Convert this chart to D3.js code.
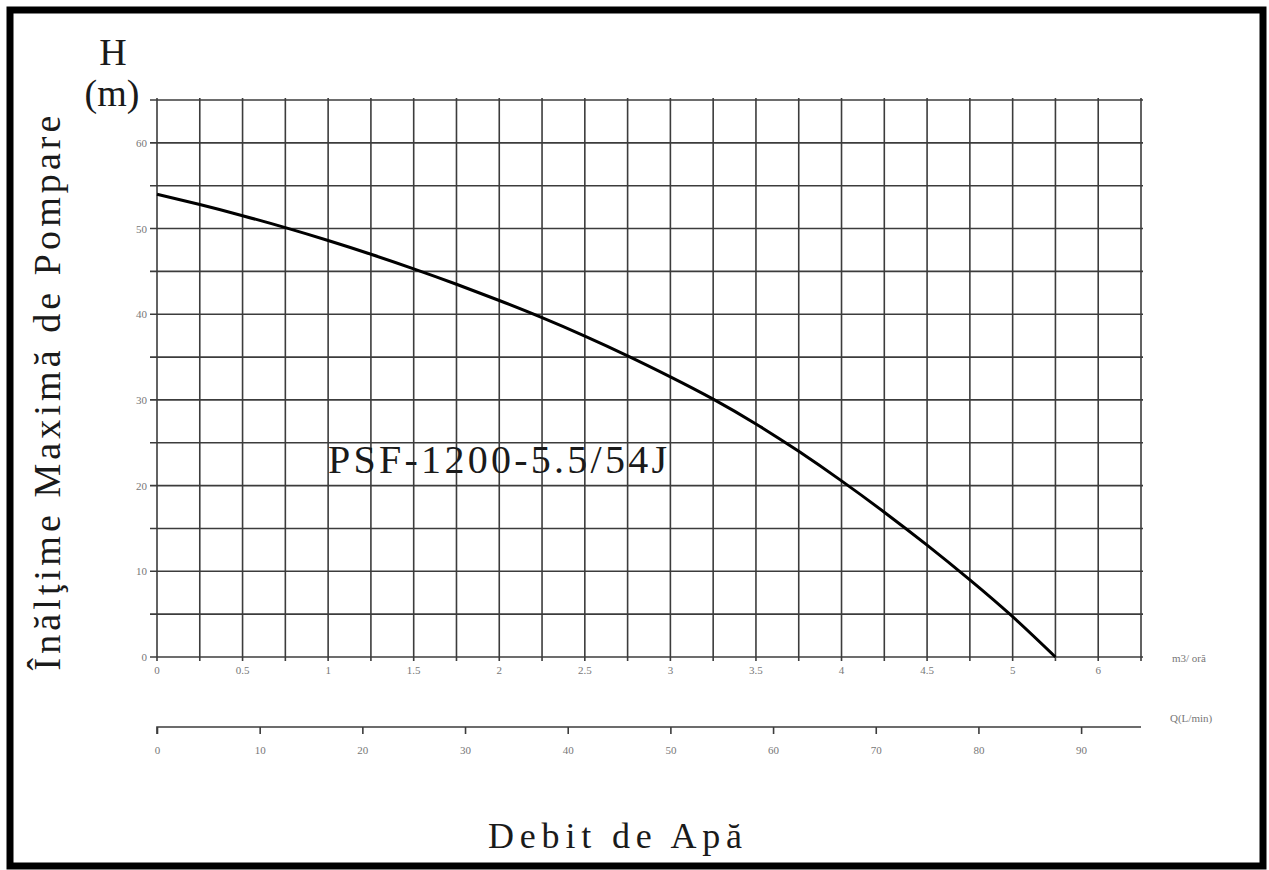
<!DOCTYPE html>
<html>
<head>
<meta charset="utf-8">
<script src="https://cdn.jsdelivr.net/npm/d3@7"></script>
<style>
  html, body { margin: 0; padding: 0; background: #fff; }
  svg { display: block; }
</style>
</head>
<body>
<svg id="chart" width="1269" height="870"></svg>
<script>
// ---- Data ----
const flowM3h = [0, 0.25, 0.5, 0.75, 1.0, 1.25, 1.5, 1.75, 2.0, 2.25, 2.5, 2.75, 3.0, 3.25, 3.5, 3.75, 4.0, 4.25, 4.5, 4.75, 5.0, 5.25];
const headM   = [54.0, 52.8, 51.5, 50.1, 48.6, 47.0, 45.3, 43.5, 41.6, 39.6, 37.45, 35.15, 32.7, 30.1, 27.2, 24.0, 20.55, 16.9, 13.05, 9.0, 4.7, 0];

const xTickValues = [0, 0.5, 1, 1.5, 2, 2.5, 3, 3.5, 4, 4.5, 5, 5.5];
const xTickLabels = ["0", "0.5", "1", "1.5", "2", "2.5", "3", "3.5", "4", "4.5", "5", "6"];
const yTickValues = [0, 10, 20, 30, 40, 50, 60];
const qTickValues = [0, 10, 20, 30, 40, 50, 60, 70, 80, 90];

const xMax = 5.75, yMax = 65;
const gridStepX = 0.25, gridStepY = 5;
const curveLabel = "PSF-1200-5.5/54J";
const yTitle = "Înălţime Maximă de Pompare";
const xTitle = "Debit de Apă";
const unitM3 = "m3/ oră";
const unitQ = "Q(L/min)";

// ---- Layout ----
const svg = d3.select("#chart");
const plotLeft = 157, plotRight = 1141, plotTop = 100, plotBottom = 657;
const x = d3.scaleLinear().domain([0, xMax]).range([plotLeft, plotRight]);
const y = d3.scaleLinear().domain([0, yMax]).range([plotBottom, plotTop]);
const xL = d3.scaleLinear().domain([0, xMax * 1000 / 60]).range([plotLeft, plotRight]);

const gridColor = "#3c3c3c";
const labelFont = "'Liberation Serif', 'DejaVu Serif', serif";
const titleFont = "'Liberation Serif', 'DejaVu Serif', serif";

// outer frame
svg.append("rect")
  .attr("x", 10).attr("y", 10).attr("width", 1253).attr("height", 856)
  .attr("fill", "none").attr("stroke", "#000").attr("stroke-width", 7);

// grid
const gx = d3.range(0, xMax + 1e-9, gridStepX);
const gy = d3.range(0, yMax + 1e-9, gridStepY);
const grid = svg.append("g").attr("stroke", gridColor).attr("stroke-width", 1.6);
grid.selectAll("line.v").data(gx).join("line")
  .attr("x1", d => x(d)).attr("x2", d => x(d))
  .attr("y1", y(yMax) - 2).attr("y2", y(0) + 4);
grid.selectAll("line.h").data(gy).join("line")
  .attr("x1", x(0) - 7).attr("x2", x(xMax) + 2)
  .attr("y1", d => y(d)).attr("y2", d => y(d));

// y tick labels
svg.append("g").selectAll("text").data(yTickValues).join("text")
  .attr("x", x(0) - 10).attr("y", d => y(d) + 4)
  .attr("text-anchor", "end")
  .attr("font-family", labelFont).attr("font-size", 11).attr("fill", "#777")
  .text(d => d);

// x (m3/h) tick labels
svg.append("g").selectAll("text").data(xTickValues).join("text")
  .attr("x", d => x(d)).attr("y", y(0) + 17)
  .attr("text-anchor", "middle")
  .attr("font-family", labelFont).attr("font-size", 11).attr("fill", "#777")
  .text((d, i) => xTickLabels[i]);

// Q (L/min) axis
const qY = 727;
const qAxis = d3.axisBottom(xL).tickValues(qTickValues).tickSize(7).tickFormat(d => d);
const qg = svg.append("g").attr("transform", `translate(0,${qY})`).call(qAxis);
qg.select(".domain").attr("stroke", gridColor).attr("stroke-width", 1.6)
  .attr("d", `M${xL(0)},7V0H${x(xMax)}`);
qg.selectAll(".tick line").attr("stroke", gridColor).attr("stroke-width", 1.6);
qg.selectAll(".tick text").attr("font-family", labelFont).attr("font-size", 11)
  .attr("fill", "#777").attr("dy", "1.5em");

// unit labels
svg.append("text").attr("x", 1172).attr("y", 662)
  .attr("font-family", labelFont).attr("font-size", 11).attr("fill", "#777").text(unitM3);
svg.append("text").attr("x", 1170).attr("y", 722)
  .attr("font-family", labelFont).attr("font-size", 11).attr("fill", "#777").text(unitQ);

// curve
const pts = flowM3h.map((q, i) => [q, headM[i]]);
svg.append("path").datum(pts)
  .attr("fill", "none").attr("stroke", "#000").attr("stroke-width", 3)
  .attr("d", d3.line().x(d => x(d[0])).y(d => y(d[1])).curve(d3.curveNatural));

// curve label
svg.append("text").attr("x", 328).attr("y", 473)
  .attr("font-family", titleFont).attr("font-size", 40).attr("fill", "#1a1a1a")
  .attr("textLength", 339).attr("lengthAdjust", "spacing")
  .text(curveLabel);

// H (m)
svg.append("text").attr("x", 113).attr("y", 65).attr("text-anchor", "middle")
  .attr("font-family", titleFont).attr("font-size", 38).attr("fill", "#1a1a1a").text("H");
svg.append("text").attr("x", 112).attr("y", 106).attr("text-anchor", "middle")
  .attr("font-family", titleFont).attr("font-size", 38).attr("fill", "#1a1a1a").text("(m)");

// y title
svg.append("text")
  .attr("transform", "translate(60,393) rotate(-90)")
  .attr("text-anchor", "middle")
  .attr("font-family", titleFont).attr("font-size", 38).attr("fill", "#1a1a1a")
  .attr("textLength", 555).attr("lengthAdjust", "spacing")
  .text(yTitle);

// x title
svg.append("text").attr("x", 488).attr("y", 848)
  .attr("font-family", titleFont).attr("font-size", 36).attr("fill", "#1a1a1a")
  .attr("textLength", 254).attr("lengthAdjust", "spacing")
  .text(xTitle);
</script>
</body>
</html>
